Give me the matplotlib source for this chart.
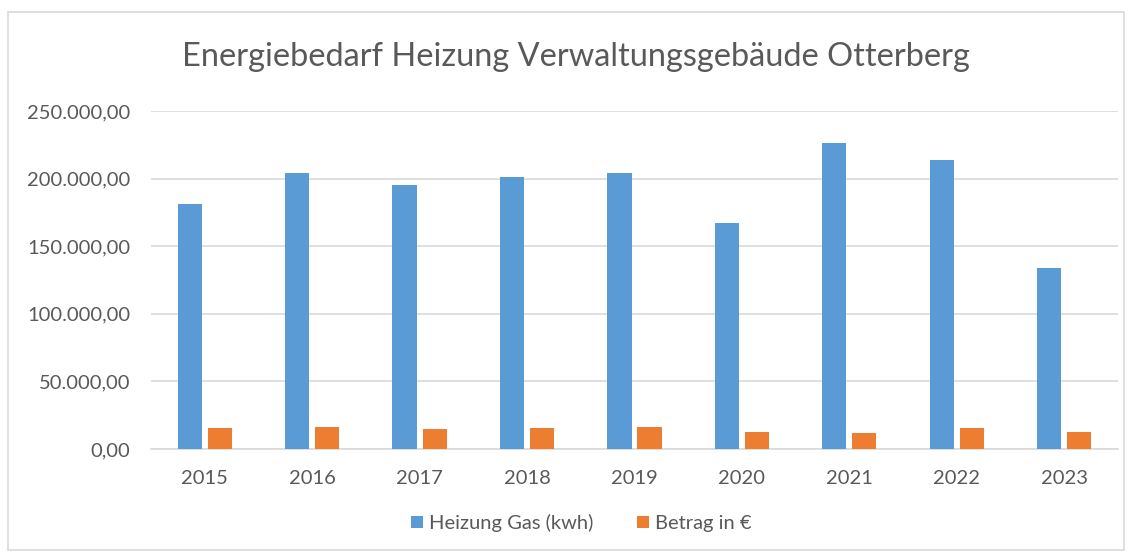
import matplotlib
matplotlib.use('Agg')
import matplotlib.pyplot as plt
from matplotlib.ticker import FuncFormatter
from matplotlib.patches import Rectangle
import numpy as np

years = ['2015', '2016', '2017', '2018', '2019', '2020', '2021', '2022', '2023']
gas_kwh = [181000, 204000, 195000, 201000, 204000, 167000, 226000, 214000, 134000]
betrag_eur = [15600, 16500, 14500, 15600, 16500, 12800, 11900, 15600, 12800]

plt.rcParams['font.family'] = ['Lato', 'DejaVu Sans']
text_color = '#595959'

fig = plt.figure(figsize=(11.32, 5.53), dpi=100)
ax = fig.add_axes([0.1334, 0.1881, 0.8542, 0.6112])

# Outer chart border like the Excel chart area
fig.patches.append(Rectangle((8 / 1132, 1 - 550 / 553), 1116 / 1132, 538 / 553,
                             transform=fig.transFigure, fill=False,
                             edgecolor='#d9d9d9', linewidth=1.2))

x = np.arange(len(years))
w = 0.225
ax.bar(x - 0.14, gas_kwh, width=w, color='#5b9bd5', label='Heizung Gas (kwh)', zorder=3)
ax.bar(x + 0.14, betrag_eur, width=w, color='#ed7d31', label='Betrag in €', zorder=3)

ax.set_xlim(-0.5, len(years) - 0.5)
ax.set_ylim(0, 250000)
ax.set_yticks(np.arange(0, 250001, 50000))
ax.yaxis.set_major_formatter(FuncFormatter(
    lambda v, p: f"{v:,.2f}".replace(',', 'X').replace('.', ',').replace('X', '.')))
ax.set_xticks(x)
ax.set_xticklabels(years)

ax.grid(axis='y', color='#d9d9d9', linewidth=1.2, zorder=0)
for s in ['top', 'right', 'left']:
    ax.spines[s].set_visible(False)
ax.spines['bottom'].set_color('#d9d9d9')
ax.spines['bottom'].set_linewidth(1.2)
ax.tick_params(axis='both', length=0, labelsize=14.5, colors=text_color)
ax.tick_params(axis='y', pad=15)
ax.tick_params(axis='x', pad=15)

fig.text(0.5085, 0.897, 'Energiebedarf Heizung Verwaltungsgebäude Otterberg',
         ha='center', va='center', fontsize=23.4, color=text_color)

ax.legend(loc='center', bbox_to_anchor=(0.445, -0.219), ncol=2, frameon=False,
          fontsize=14.5, labelcolor=text_color, handlelength=0.6, handleheight=0.6,
          columnspacing=2.2, handletextpad=0.3)

fig.savefig('out.png', dpi=100)
